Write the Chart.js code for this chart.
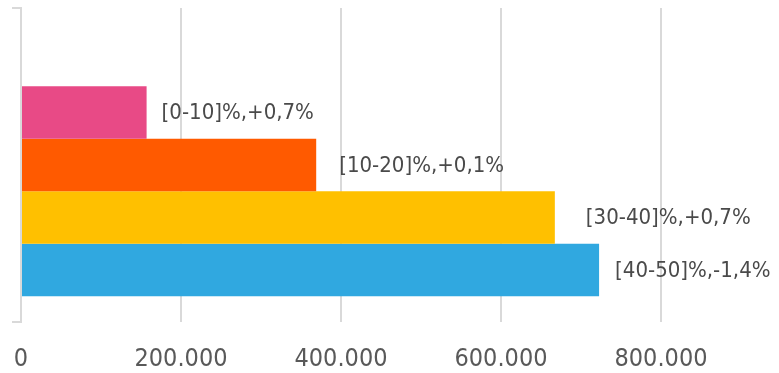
<!DOCTYPE html>
<html>
<head>
<meta charset="utf-8">
<script src="https://cdn.jsdelivr.net/npm/chart.js@4.4.1/dist/chart.umd.min.js"></script>
<style>
  html, body { margin: 0; padding: 0; background: #fff; overflow: hidden; }
  #wrap { width: 779px; height: 373px; position: relative; }
</style>
</head>
<body>
<div id="wrap"><canvas id="myChart"></canvas></div>
<script>
const categories = [""]
const seriesNames = ["[20-30]%", "[0-10]%", "[10-20]%", "[30-40]%", "[40-50]%"]
const seriesValues = [null, 157000, 369000, 667300, 722600]
const seriesLabels = ["", "[0-10]%,+0,7%", "[10-20]%,+0,1%", "[30-40]%,+0,7%", "[40-50]%,-1,4%"]
const seriesColors = ["#ffffff", "#E84A86", "#FF5A00", "#FFC000", "#30A8E0"]
const tickValues = [0, 200000, 400000, 600000, 800000]

const FONT = "'DejaVu Sans Condensed', 'DejaVu Sans', sans-serif"

// labels to the right of every bar
const barLabels = {
    id: "barLabels",
    afterDatasetsDraw(chart, args, opts) {
        const ctx = chart.ctx
        ctx.save()
        ctx.font = "22px " + FONT
        ctx.fillStyle = "#4a4a4a"
        ctx.textBaseline = "middle"
        chart.data.datasets.forEach((ds, i) => {
            if (!ds.endLabel) return
            const bar = chart.getDatasetMeta(i).data[0]
            ctx.fillText(ds.endLabel, bar.x + opts.offsets[i], bar.y + 1)
        })
        ctx.restore()
    }
}

const ctx = document.getElementById("myChart")
new Chart(ctx, {
    type: "bar",
    data: {
        labels: categories,
        datasets: seriesNames.map((name, i) => ({
            label: name,
            data: [seriesValues[i]],
            endLabel: seriesLabels[i],
            backgroundColor: seriesColors[i],
            borderWidth: 0,
            categoryPercentage: 0.836,
            barPercentage: 1
        }))
    },
    plugins: [barLabels],
    options: {
        indexAxis: "y",
        responsive: true,
        maintainAspectRatio: false,
        animation: false,
        layout: { padding: { top: 8, right: 0, left: 0, bottom: 0 } },
        plugins: {
            legend: { display: false },
            tooltip: { enabled: false },
            barLabels: { offsets: [0, 15, 23, 31, 16] }
        },
        scales: {
            x: {
                min: 0,
                max: 947500,
                afterBuildTicks: (scale) => {
                    scale.ticks = tickValues.map(v => ({ value: v }))
                },
                afterFit: (scale) => {
                    scale.height = 51
                    scale.paddingLeft = 0
                    scale.paddingRight = 0
                },
                grid: { color: "#d9d9d9", lineWidth: 2, drawTicks: false },
                border: { display: false },
                ticks: {
                    padding: 22,
                    color: "#595959",
                    font: { family: FONT, size: 25 },
                    maxRotation: 0,
                    callback: (v) => v.toLocaleString("de-DE")
                }
            },
            y: {
                afterFit: (scale) => { scale.width = 21 },
                grid: {
                    color: "#d9d9d9",
                    lineWidth: 2,
                    drawOnChartArea: false,
                    tickLength: 9,
                    offset: true
                },
                border: { color: "#d9d9d9", width: 2 },
                ticks: { display: false }
            }
        }
    }
})
</script>
</body>
</html>
